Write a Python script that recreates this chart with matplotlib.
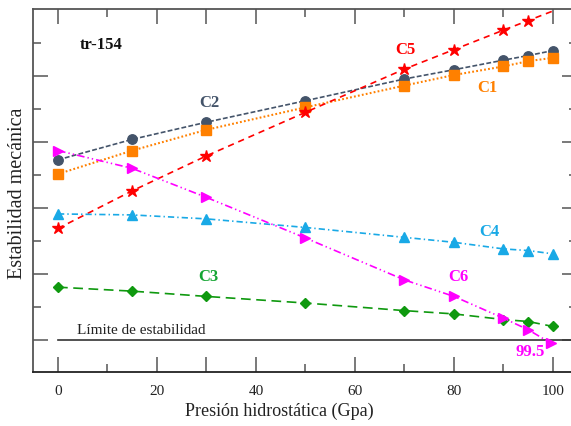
import matplotlib
matplotlib.use("Agg")
import matplotlib.pyplot as plt

plt.rcParams['font.family'] = ['Liberation Serif', 'DejaVu Serif']
plt.rcParams['lines.scale_dashes'] = False

# Pressure (GPa) and stability values for each configuration
pressure = [0, 15, 30, 50, 70, 80, 90, 95, 100]
c1 = [5.03, 5.74, 6.37, 7.05, 7.71, 8.03, 8.29, 8.45, 8.55]
c2 = [5.46, 6.08, 6.60, 7.25, 7.91, 8.19, 8.48, 8.62, 8.77]
c3 = [1.60, 1.48, 1.32, 1.12, 0.89, 0.79, 0.62, 0.56, 0.41]
c4 = [3.82, 3.79, 3.67, 3.41, 3.11, 2.96, 2.76, 2.71, 2.61]
c5 = [3.38, 4.52, 5.58, 6.90, 8.21, 8.80, 9.39, 9.68, 9.97]
pressure_c6 = [0, 15, 30, 50, 70, 80, 90, 95, 99.5]
c6 = [5.74, 5.20, 4.32, 3.09, 1.82, 1.32, 0.66, 0.31, -0.09]

xtick_major = [0, 20, 30, 40, 60, 80, 100]
xtick_labels = ['0', '20', '', '40', '60', '80', '100']
xtick_minor = [10, 50, 70, 90]
ytick_major = [0, 2, 4, 6, 8]
ytick_minor = [1, 3, 5, 7, 9]

fig = plt.figure(figsize=(5.71, 4.27), dpi=100)
ax = fig.add_axes([33 / 571, 54 / 427, 544 / 571, 363 / 427])
ax.set_xlim(-5.05, 104.85)
ax.set_ylim(-0.97, 10.03)

lw = 1.2
ax.plot(pressure, c2, color='#44546a', lw=lw, dashes=(3.5, 1.6),
        marker='o', ms=6.8, zorder=4)
ax.plot(pressure, c1, color='#ff8000', lw=1.5, dashes=(1.3, 1.6),
        marker='s', ms=6.8, zorder=4)
ax.plot(pressure, c5, color='#ff0000', lw=lw, dashes=(4.5, 3.5),
        marker='*', ms=9, markevery=list(range(len(pressure) - 1)), zorder=4)
ax.plot(pressure, c4, color='#19a9e6', lw=lw, dashes=(4.5, 2.2, 1, 2.2),
        marker='^', ms=7.5, zorder=4)
ax.plot(pressure, c3, color='#0f990f', lw=lw, dashes=(7, 4),
        marker='D', ms=5.5, zorder=4)
ax.plot(pressure_c6, c6, color='#ff00ff', lw=lw,
        dashes=(5.5, 2.2, 1, 2.2, 1, 2.2), marker='>', ms=7.5, zorder=4)

# stability limit
ax.plot([0, 110], [0, 0], color='#333333', lw=1.2, zorder=3)
ax.text(16.9, 0.33, 'Límite de estabilidad', fontsize=11, ha='center',
        va='center', color='#222222')

lab = dict(fontsize=12, fontweight='bold', ha='center', va='center')
ax.text(8.7, 8.97, 'tr-154', color='#111111', **lab)
ax.text(30.5, 7.21, 'C2', color='#44546a', **lab)
ax.text(70.1, 8.82, 'C5', color='#ff0000', **lab)
ax.text(86.8, 7.66, 'C1', color='#ff8000', **lab)
ax.text(87.1, 3.31, 'C4', color='#19a9e6', **lab)
ax.text(80.9, 1.93, 'C6', color='#ff00ff', **lab)
ax.text(30.4, 1.95, 'C3', color='#14a532', **lab)
ax.text(95.4, -0.32, '99.5', color='#ff00ff', **lab)

ax.set_xticks(xtick_major)
ax.set_xticklabels(xtick_labels)
ax.set_xticks(xtick_minor, minor=True)
ax.set_yticks(ytick_major)
ax.set_yticks(ytick_minor, minor=True)
ax.set_yticklabels([])
ax.tick_params(which='both', direction='in', top=True, right=True,
               color='#555555', width=1.1, labelsize=11, labelcolor='#222222')
ax.tick_params(which='major', length=11, pad=9)
ax.tick_params(which='minor', length=5.5)

for s in ax.spines.values():
    s.set_color('#555555')
    s.set_linewidth(1.3)
ax.spines['bottom'].set_color('#222222')

ax.set_xlabel('Presión hidrostática (Gpa)', fontsize=13, color='#222222')
ax.xaxis.set_label_coords((279 - 33) / 544, -(411 - 373) / 363, transform=ax.transAxes)
ax.xaxis.label.set_va('center')
ax.set_ylabel('Estabilidad mecánica', fontsize=14.5, color='#222222')
ax.yaxis.set_label_coords(-(33 - 18) / 544, (373 - 193.5) / 363, transform=ax.transAxes)
ax.yaxis.label.set_va('center')

fig.savefig('out.png', dpi=100)
